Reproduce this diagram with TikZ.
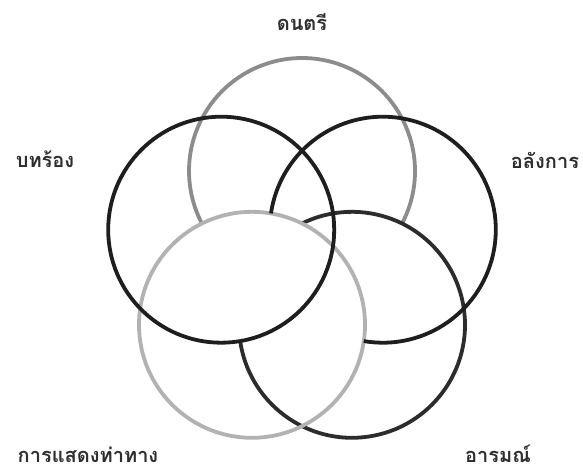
\documentclass[tikz,border=0pt]{standalone}
\usepackage{fontspec}
\newfontfamily\thaifont[Script=Thai]{Loma}
\definecolor{ringT}{HTML}{8C8C8C}
\definecolor{ringL}{HTML}{1E1E1E}
\definecolor{ringR}{HTML}{1E1E1E}
\definecolor{ringBL}{HTML}{B2B2B2}
\definecolor{ringBR}{HTML}{2C2C2C}
\definecolor{lbltext}{HTML}{2E2E2E}
\begin{document}
\begin{tikzpicture}[x=1pt,y=1pt,
  ring/.style={line width=3.8pt},
  lbl/.style={font=\thaifont\bfseries\fontsize{20}{23}\selectfont, text=lbltext, inner sep=0pt}]
\useasboundingbox[fill=white] (0,0) rectangle (583,472);
% circle centres (regular pentagon, centre (302,216), R = 85)
\coordinate (cT)  at (302,301);
\coordinate (cL)  at (221.2,242.3);
\coordinate (cR)  at (382.8,242.3);
\coordinate (cBL) at (252,147.2);
\coordinate (cBR) at (352,147.2);
% rings
\draw[ring, draw=ringT]  (cT)  ++(-27.7:113pt) arc[start angle=-27.7, end angle=207.7, radius=113pt];
\draw[ring, draw=ringBR] (cBR) ++(188.3:113pt) arc[start angle=188.3, end angle=476.2, radius=113pt];
\draw[ring, draw=ringBL] (cBL) circle[radius=113pt];
\draw[ring, draw=ringR]  (cR)  ++(260.3:113pt) arc[start angle=260.3, end angle=531.7, radius=113pt];
\draw[ring, draw=ringL]  (cL)  circle[radius=113pt];
% labels
\node[lbl] (tDon) at (302,450) {ดนตรี};
\node[lbl] (tBot) at (45,313) {บทร้อง};
\node[lbl] (tAlang) at (545,312) {อลังการ};
\node[lbl] (tKan) at (88,17) {การแสดงท่าทาง};
\node[lbl] (tArom) at (498,18) {อารมณ์};
\end{tikzpicture}
\end{document}
